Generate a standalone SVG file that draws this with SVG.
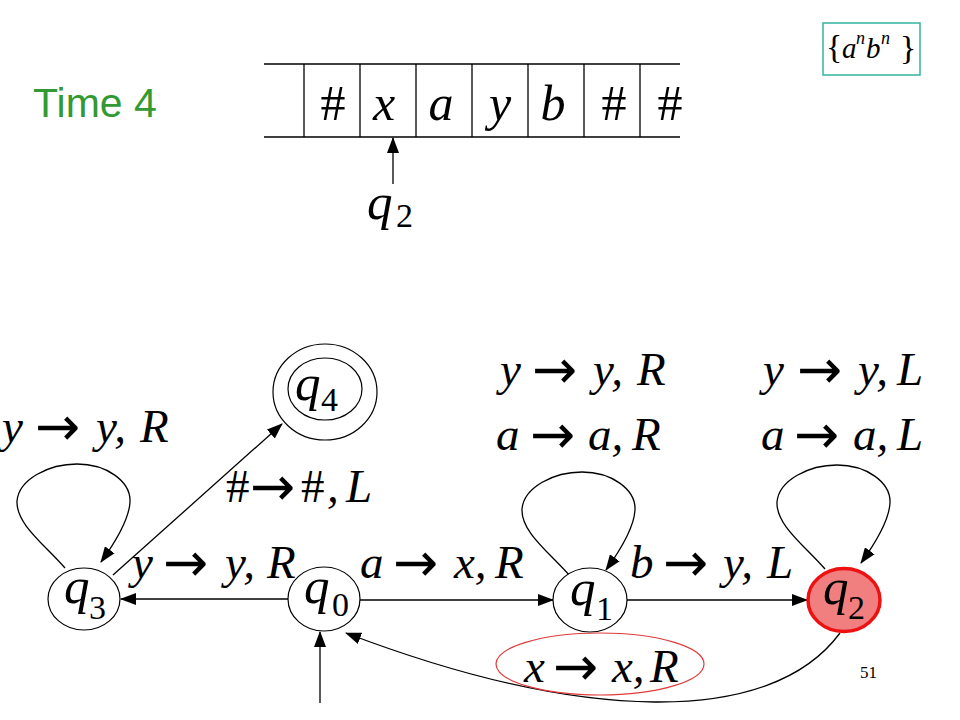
<svg xmlns="http://www.w3.org/2000/svg" width="960" height="720" viewBox="0 0 960 720">
<defs>
<style>
.m{font-family:"Liberation Serif","Times New Roman",serif;font-style:italic;font-size:47px;fill:#000}
.u{font-style:normal}
.ar{font-family:"DejaVu Sans",sans-serif;font-style:normal;font-size:54px}
.q{font-family:"Liberation Serif","Times New Roman",serif;font-style:italic;font-size:51px;fill:#000}
.s{font-family:"Liberation Serif","Times New Roman",serif;font-style:normal;font-size:34px;fill:#000}
.tp{font-family:"Liberation Serif","Times New Roman",serif;font-style:italic;font-size:50px;fill:#000;text-anchor:middle}
.st{fill:#fff;stroke:#000;stroke-width:1.2}
.ln{fill:none;stroke:#000;stroke-width:1.3}
</style>
<marker id="ah" markerWidth="16" markerHeight="12" refX="15" refY="6" orient="auto" markerUnits="userSpaceOnUse">
<path d="M0,0 L16,6 L0,12 z" fill="#000"/>
</marker>
<path id="loop" d="M -19 -31 C -40 -55, -68 -75, -67 -98 C -65 -120, -35 -135, -7 -135 C 22 -135, 47 -118, 46 -97 C 45 -78, 30 -55, 17 -37"/>
</defs>
<rect width="960" height="720" fill="#fff"/>

<text x="33" y="117" font-family="Liberation Sans, Arial, sans-serif" font-size="41" fill="#339933">Time 4</text>

<g id="setbox">
<rect x="823" y="23" width="97" height="52" fill="none" stroke="#33b3a0" stroke-width="1.5"/>
<text y="58" font-family="Liberation Serif, Times New Roman, serif" font-size="34"><tspan x="826">{</tspan><tspan x="842" font-style="italic" font-size="29">a</tspan><tspan x="856" y="44" font-style="italic" font-size="18">n</tspan><tspan x="866" y="58" font-style="italic" font-size="29">b</tspan><tspan x="881" y="44" font-style="italic" font-size="18">n</tspan><tspan x="900" y="59">}</tspan></text>
</g>

<g id="tape">
<line x1="264" y1="64" x2="680" y2="64" stroke="#000" stroke-width="1.3"/>
<line x1="264" y1="137" x2="680" y2="137" stroke="#000" stroke-width="1.3"/>
<g stroke="#000" stroke-width="1.3">
<line x1="304" y1="64" x2="304" y2="137"/>
<line x1="360" y1="64" x2="360" y2="137"/>
<line x1="416" y1="64" x2="416" y2="137"/>
<line x1="472" y1="64" x2="472" y2="137"/>
<line x1="528" y1="64" x2="528" y2="137"/>
<line x1="584" y1="64" x2="584" y2="137"/>
<line x1="640" y1="64" x2="640" y2="137"/>
</g>
<text class="tp" x="333" y="120" style="font-style:normal">#</text>
<text class="tp" x="384" y="120">x</text>
<text class="tp" x="441" y="120">a</text>
<text class="tp" x="500" y="120">y</text>
<text class="tp" x="553" y="120">b</text>
<text class="tp" x="614" y="120" style="font-style:normal">#</text>
<text class="tp" x="670" y="120" style="font-style:normal">#</text>
</g>

<g id="head">
<text class="q" x="367" y="219">q</text><text class="s" x="396" y="227">2</text>
</g>

<g id="connectors">
<line class="ln" x1="393" y1="184" x2="393" y2="138" marker-end="url(#ah)"/>
<line class="ln" x1="288" y1="599" x2="121" y2="599" marker-end="url(#ah)"/>
<line class="ln" x1="360" y1="600" x2="553" y2="600" marker-end="url(#ah)"/>
<line class="ln" x1="627" y1="600" x2="807" y2="600" marker-end="url(#ah)"/>
<path class="ln" d="M 840 633 C 770 728, 580 722, 346 633" marker-end="url(#ah)"/>
<line class="ln" x1="320" y1="703" x2="320" y2="632" marker-end="url(#ah)"/>
<line class="ln" x1="113" y1="575" x2="282" y2="424" marker-end="url(#ah)"/>
<use href="#loop" class="ln" transform="translate(84,599)" marker-end="url(#ah)"/>
<use href="#loop" class="ln" transform="translate(589,607)" marker-end="url(#ah)"/>
<use href="#loop" class="ln" transform="translate(844,600)" marker-end="url(#ah)"/>
</g>

<g id="q3">
<ellipse class="st" cx="84" cy="599" rx="36" ry="31"/>
<text class="q" x="64" y="603">q</text><text class="s" x="89" y="619">3</text>
</g>
<g id="q0">
<ellipse class="st" cx="324" cy="599" rx="36" ry="32"/>
<text class="q" x="304" y="603">q</text><text class="s" x="332" y="616">0</text>
</g>
<g id="q1">
<ellipse class="st" cx="590" cy="600" rx="37" ry="32"/>
<text class="q" x="570" y="605">q</text><text class="s" x="596" y="620">1</text>
</g>
<g id="q2">
<ellipse cx="844" cy="600" rx="36" ry="31.5" fill="#f27f7f" stroke="#ee1111" stroke-width="3.5"/>
<text class="q" x="823" y="604">q</text><text class="s" x="848" y="619">2</text>
</g>
<g id="q4">
<ellipse class="st" cx="325" cy="392" rx="52" ry="48"/>
<ellipse class="st" cx="325" cy="389" rx="37" ry="31"/>
<text class="q" x="295" y="400">q</text><text class="s" x="321" y="411">4</text>
</g>

<g id="labels">
<text class="m" y="442"><tspan x="2">y</tspan><tspan class="ar" x="35" y="445">→</tspan><tspan x="96" y="442">y,</tspan><tspan x="140">R</tspan></text>
<text class="m" y="502"><tspan class="u" x="226">#</tspan><tspan class="ar" x="250" y="505">→</tspan><tspan class="u" x="301" y="502">#</tspan><tspan x="327">,</tspan><tspan x="346">L</tspan></text>
<text class="m" y="578"><tspan x="132">y</tspan><tspan class="ar" x="163" y="581">→</tspan><tspan x="225" y="578">y,</tspan><tspan x="267">R</tspan></text>
<text class="m" y="578"><tspan x="360">a</tspan><tspan class="ar" x="393" y="581">→</tspan><tspan x="454" y="578">x,</tspan><tspan x="495">R</tspan></text>
<text class="m" y="578"><tspan x="630">b</tspan><tspan class="ar" x="663" y="581">→</tspan><tspan x="723" y="578">y,</tspan><tspan x="767">L</tspan></text>
<text class="m" y="385"><tspan x="500">y</tspan><tspan class="ar" x="532" y="388">→</tspan><tspan x="593" y="385">y,</tspan><tspan x="637">R</tspan></text>
<text class="m" y="450"><tspan x="496">a</tspan><tspan class="ar" x="530" y="453">→</tspan><tspan x="588" y="450">a,</tspan><tspan x="632">R</tspan></text>
<text class="m" y="385"><tspan x="763">y</tspan><tspan class="ar" x="797" y="388">→</tspan><tspan x="858" y="385">y,</tspan><tspan x="897">L</tspan></text>
<text class="m" y="450"><tspan x="761">a</tspan><tspan class="ar" x="794" y="453">→</tspan><tspan x="853" y="450">a,</tspan><tspan x="897">L</tspan></text>
<ellipse cx="600" cy="664" rx="104" ry="31" fill="none" stroke="#e03a3a" stroke-width="1.2"/>
<text class="m" y="682"><tspan x="524">x</tspan><tspan class="ar" x="553" y="685">→</tspan><tspan x="612" y="682">x,</tspan><tspan x="650">R</tspan></text>
</g>

<text x="860" y="678" font-family="Liberation Serif, Times New Roman, serif" font-size="17">51</text>
</svg>
